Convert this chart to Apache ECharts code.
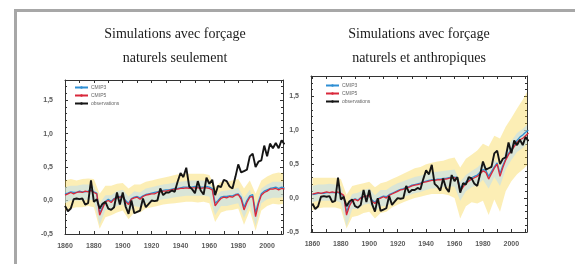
<!DOCTYPE html>
<html lang="fr">
<head>
<meta charset="UTF-8">
<title>Simulations</title>
<style>
  html, body { margin: 0; padding: 0; background: #fff; }
  #chart { width: 575px; height: 264px; }
</style>
</head>
<body>
<div id="chart"></div>
<script src="https://cdn.jsdelivr.net/npm/echarts@6.0.0/dist/echarts.min.js"></script>
<script>
// years of the line series (2-year steps) and of the ranges (4-year steps)
var years = [1860,1862,1864,1866,1868,1870,1872,1874,1876,1878,1880,1882,1884,1886,1888,1890,1892,1894,1896,1898,
  1900,1902,1904,1906,1908,1910,1912,1914,1916,1918,1920,1922,1924,1926,1928,1930,1932,1934,1936,1938,
  1940,1942,1944,1946,1948,1950,1952,1954,1956,1958,1960,1962,1964,1966,1968,1970,1972,1974,1976,1978,
  1980,1982,1984,1986,1988,1990,1992,1994,1996,1998,2000,2002,2004,2006,2008,2010,2012];
var bandYears = [1860,1864,1868,1872,1876,1880,1884,1888,1892,1896,1900,1904,1908,1912,1916,1920,1924,1928,1932,1936,
  1940,1944,1948,1952,1956,1960,1964,1968,1972,1976,1980,1984,1988,1992,1996,2000,2004,2008,2012];

var xTicks = [1860, 1880, 1900, 1920, 1940, 1960, 1980, 2000];
var xMinor = [1860,1870,1880,1890,1900,1910,1920,1930,1940,1950,1960,1970,1980,1990,2000,2010];
var yTicks = [-0.5, 0, 0.5, 1, 1.5];

// observations (shared by both panels)
var obs = [-0.08,-0.16,-0.12,0.02,0.03,0.02,0.03,-0.06,-0.04,0.3,-0.02,0.02,-0.12,-0.05,-0.02,-0.12,-0.14,-0.1,0.12,-0.06,
  0.12,-0.09,-0.2,0.0,-0.19,-0.17,-0.15,0.03,-0.1,-0.05,0.0,-0.01,0.0,0.18,0.08,0.12,0.12,0.15,0.13,0.28,
  0.41,0.35,0.49,0.21,0.17,0.11,0.29,0.15,0.09,0.34,0.25,0.31,0.08,0.22,0.2,0.31,0.29,0.21,0.18,0.35,
  0.54,0.42,0.44,0.46,0.66,0.7,0.5,0.58,0.6,0.82,0.66,0.85,0.78,0.86,0.78,0.9,0.84];

// natural forcing only
var natCmip5 = [0.08,0.1,0.12,0.1,0.12,0.13,0.12,0.14,0.13,0.15,0.12,0.1,-0.22,-0.12,-0.02,0.0,-0.03,0.02,0.04,0.05,
  0.06,-0.02,-0.06,0.02,0.04,0.05,0.02,0.06,0.08,0.09,0.1,0.1,0.12,0.13,0.14,0.14,0.15,0.16,0.17,0.17,
  0.18,0.18,0.19,0.18,0.19,0.19,0.19,0.18,0.19,0.19,0.18,0.16,-0.08,-0.02,0.03,0.05,0.04,0.06,0.05,0.08,
  0.09,0.02,-0.14,-0.03,0.05,0.06,-0.24,-0.05,0.08,0.12,0.14,0.17,0.17,0.18,0.16,0.18,0.17];
var natCmip3 = [0.1,0.11,0.13,0.12,0.12,0.14,0.13,0.13,0.14,0.16,0.13,0.11,-0.18,-0.1,-0.01,0.02,-0.01,0.03,0.05,0.06,
  0.07,0.0,-0.04,0.03,0.05,0.06,0.04,0.07,0.09,0.1,0.11,0.12,0.13,0.14,0.15,0.16,0.16,0.17,0.18,0.18,
  0.19,0.2,0.2,0.2,0.2,0.21,0.2,0.2,0.2,0.21,0.2,0.18,-0.04,0.0,0.05,0.06,0.06,0.07,0.07,0.09,
  0.1,0.05,-0.1,0.0,0.07,0.09,-0.18,-0.02,0.1,0.14,0.16,0.18,0.19,0.2,0.18,0.2,0.19];
var natYellowLo = [-0.15,-0.12,-0.1,-0.1,-0.08,-0.1,-0.42,-0.25,-0.22,-0.18,-0.15,-0.28,-0.18,-0.18,-0.12,-0.1,-0.08,-0.06,-0.05,-0.04,
  -0.03,-0.02,-0.02,-0.03,-0.02,-0.04,-0.32,-0.18,-0.15,-0.14,-0.12,-0.36,-0.15,-0.45,-0.15,-0.08,-0.05,-0.06,-0.05];
var natYellowHi = [0.3,0.32,0.3,0.32,0.33,0.32,0.1,0.22,0.22,0.25,0.26,0.18,0.24,0.24,0.28,0.3,0.32,0.34,0.36,0.38,
  0.4,0.4,0.4,0.4,0.4,0.38,0.2,0.28,0.28,0.3,0.32,0.18,0.3,0.1,0.3,0.36,0.4,0.42,0.4];
var natBlueLo = [-0.04,0.0,0.0,0.0,0.02,0.0,-0.36,-0.14,-0.14,-0.08,-0.06,-0.18,-0.08,-0.1,-0.04,-0.02,0.0,0.02,0.03,0.05,
  0.06,0.07,0.07,0.07,0.07,0.06,-0.22,-0.08,-0.08,-0.06,-0.04,-0.26,-0.06,-0.38,-0.04,0.02,0.04,0.04,0.05];
var natBlueHi = [0.2,0.22,0.22,0.24,0.24,0.22,-0.04,0.08,0.08,0.14,0.16,0.06,0.14,0.12,0.18,0.2,0.22,0.24,0.25,0.27,
  0.28,0.29,0.3,0.3,0.3,0.29,0.06,0.14,0.15,0.16,0.19,0.04,0.16,-0.08,0.18,0.24,0.28,0.28,0.28];

// natural + anthropogenic forcing
var allCmip5 = [0.06,0.07,0.08,0.07,0.08,0.09,0.08,0.09,0.08,0.09,0.07,0.04,-0.25,-0.12,-0.04,-0.02,-0.04,0.0,0.02,0.03,
  0.04,-0.05,-0.08,-0.02,0.0,0.02,0.0,0.04,0.06,0.08,0.1,0.12,0.13,0.15,0.16,0.18,0.19,0.2,0.21,0.23,
  0.24,0.25,0.26,0.26,0.27,0.27,0.28,0.28,0.29,0.3,0.3,0.28,0.1,0.16,0.22,0.25,0.28,0.3,0.32,0.36,
  0.4,0.38,0.28,0.36,0.44,0.5,0.32,0.45,0.56,0.64,0.7,0.76,0.82,0.86,0.88,0.92,0.96];
var allCmip3 = [0.05,0.06,0.07,0.07,0.07,0.08,0.08,0.08,0.08,0.08,0.06,0.03,-0.2,-0.1,-0.03,-0.01,-0.03,0.01,0.02,0.03,
  0.04,-0.03,-0.06,-0.01,0.01,0.03,0.02,0.05,0.07,0.09,0.11,0.13,0.14,0.16,0.17,0.19,0.2,0.21,0.22,0.24,
  0.25,0.26,0.27,0.27,0.28,0.28,0.29,0.29,0.3,0.31,0.31,0.3,0.15,0.19,0.24,0.27,0.3,0.32,0.34,0.38,
  0.42,0.41,0.32,0.39,0.46,0.52,0.36,0.48,0.58,0.66,0.72,0.79,0.85,0.9,0.93,0.97,1.0];
var allYellowLo = [-0.18,-0.15,-0.14,-0.14,-0.14,-0.16,-0.45,-0.28,-0.26,-0.22,-0.2,-0.3,-0.22,-0.2,-0.14,-0.1,-0.06,-0.03,0.0,0.02,
  0.04,0.06,0.06,0.06,0.04,0.0,-0.3,-0.12,-0.06,-0.08,-0.04,-0.25,-0.02,-0.2,0.1,0.25,0.35,0.42,0.5];
var allYellowHi = [0.3,0.3,0.3,0.3,0.3,0.28,0.05,0.18,0.2,0.22,0.24,0.16,0.22,0.24,0.28,0.32,0.36,0.4,0.44,0.46,
  0.5,0.52,0.54,0.55,0.58,0.6,0.45,0.58,0.64,0.7,0.8,0.76,0.92,0.88,1.05,1.18,1.32,1.45,1.6];
var allBlueLo = [-0.06,-0.04,-0.04,-0.04,-0.04,-0.06,-0.42,-0.16,-0.16,-0.1,-0.08,-0.2,-0.12,-0.12,-0.06,-0.02,0.02,0.04,0.07,0.09,
  0.12,0.14,0.15,0.16,0.17,0.17,-0.04,0.1,0.16,0.19,0.27,0.14,0.31,0.18,0.42,0.56,0.68,0.74,0.82];
var allBlueHi = [0.18,0.2,0.2,0.21,0.2,0.18,-0.1,0.06,0.08,0.12,0.14,0.04,0.12,0.12,0.18,0.22,0.25,0.28,0.31,0.33,
  0.36,0.38,0.39,0.4,0.41,0.42,0.24,0.34,0.4,0.45,0.53,0.42,0.57,0.46,0.7,0.84,0.96,1.02,1.1];

var panels = [
  { title: 'Simulations avec forçage\nnaturels seulement', cx: 175, left: 65, top: 80, width: 218, height: 154,
    xMin: 1860, xMax: 2011, cmip3: natCmip3, cmip5: natCmip5,
    yLo: natYellowLo, yHi: natYellowHi, bLo: natBlueLo, bHi: natBlueHi, legLeft: 74, legTop: 85 },
  { title: 'Simulations avec forçage\nnaturels et anthropiques', cx: 419, left: 311, top: 76, width: 216, height: 156,
    xMin: 1859, xMax: 2011, cmip3: allCmip3, cmip5: allCmip5,
    yLo: allYellowLo, yHi: allYellowHi, bLo: allBlueLo, bHi: allBlueHi, legLeft: 325, legTop: 83 }
];

function pairs(xs, ys) {
  return xs.map(function (x, i) { return [x, ys[i]]; });
}

var axisColor = '#333';
var grids = [], xAxes = [], yAxes = [], series = [], legends = [], graphics = [];

graphics.push({
  type: 'rect', silent: true, z: 100,
  shape: { x: 15.5, y: 10.5, width: 600, height: 300 },
  style: { fill: 'none', stroke: '#a7a7a7', lineWidth: 3 }
});

// range band: a single polygon (lower edge forward, upper edge back), placed with api.coord
function band(xi, yi, lo, hi, color, opacity) {
  series.push({
    type: 'custom', xAxisIndex: xi, yAxisIndex: yi, silent: true, z: 1, clip: true,
    data: bandYears.map(function (x, k) { return [x, lo[k], hi[k]]; }),
    renderItem: function (params, api) {
      if (params.dataIndex !== 0) return null;
      var pts = [];
      for (var k = 0; k < bandYears.length; k++) pts.push(api.coord([bandYears[k], lo[k]]));
      for (var j = bandYears.length - 1; j >= 0; j--) pts.push(api.coord([bandYears[j], hi[j]]));
      return { type: 'polygon', shape: { points: pts },
               style: { fill: color, opacity: opacity } };
    }
  });
}

panels.forEach(function (p, i) {
  grids.push({ left: p.left, top: p.top, width: p.width, height: p.height });
  graphics.push({
    type: 'text', silent: true, x: p.cx, y: 22,
    style: { text: p.title, font: '14px "Liberation Serif"', fill: '#1b1b1b',
             textAlign: 'center', textVerticalAlign: 'top', lineHeight: 24 }
  });

  var common = {
    type: 'value', gridIndex: i, splitLine: { show: false },
    axisLine: { show: true, onZero: false, lineStyle: { color: axisColor, width: 1 } }
  };
  xAxes.push(Object.assign({}, common, {
    min: p.xMin, max: p.xMax, position: 'bottom',
    axisTick: { inside: true, length: 3, customValues: xMinor, lineStyle: { color: axisColor } },
    axisLabel: { customValues: xTicks, margin: 9, fontSize: 7, fontWeight: 'bold',
                 fontFamily: 'Liberation Sans', color: '#5a5a5a', formatter: function (v) { return String(v); } }
  }));
  xAxes.push(Object.assign({}, common, {
    min: p.xMin, max: p.xMax, position: 'top',
    axisTick: { inside: true, length: 3, customValues: xMinor, lineStyle: { color: axisColor } },
    axisLabel: { show: false }
  }));
  yAxes.push(Object.assign({}, common, {
    min: -0.5, max: 1.8, interval: 0.5, position: 'left',
    axisTick: { inside: true, length: 3, lineStyle: { color: axisColor } },
    minorTick: { show: true, splitNumber: 5, length: 2, lineStyle: { color: axisColor } },
    axisLabel: { customValues: yTicks, margin: 12, fontSize: 7, fontWeight: 'bold',
                 fontFamily: 'Liberation Sans', color: '#5a5a5a',
                 formatter: function (v) { return v.toFixed(1).replace('.', ','); } }
  }));
  yAxes.push(Object.assign({}, common, {
    min: -0.5, max: 1.8, interval: 0.5, position: 'right',
    axisTick: { inside: true, length: 3, lineStyle: { color: axisColor } },
    minorTick: { show: true, splitNumber: 5, length: 2, lineStyle: { color: axisColor } },
    axisLabel: { show: false }
  }));

  var xi = i * 2, yi = i * 2;
  band(xi, yi, p.yLo, p.yHi, '#f6cf33', 0.36);
  band(xi, yi, p.bLo, p.bHi, '#bcdff2', 0.55);

  series.push({ name: 'CMIP3', type: 'line', xAxisIndex: xi, yAxisIndex: yi, symbol: 'none',
    lineStyle: { color: '#2e8fd4', width: 1.3 }, itemStyle: { color: '#2e8fd4' },
    data: pairs(years, p.cmip3), z: 3 });
  series.push({ name: 'CMIP5', type: 'line', xAxisIndex: xi, yAxisIndex: yi, symbol: 'none',
    lineStyle: { color: '#d9283b', width: 1.3 }, itemStyle: { color: '#d9283b' },
    data: pairs(years, p.cmip5), z: 4 });
  series.push({ name: 'observations', type: 'line', xAxisIndex: xi, yAxisIndex: yi, symbol: 'none',
    lineStyle: { color: '#151515', width: 1.9 }, itemStyle: { color: '#151515' },
    data: pairs(years, obs), z: 5 });

  legends.push({
    data: ['CMIP3', 'CMIP5', 'observations'], orient: 'vertical',
    left: p.legLeft, top: p.legTop, itemWidth: 13, itemHeight: 3, itemGap: 3,
    selectedMode: false, padding: 0,
    textStyle: { fontSize: 5, color: '#666', fontFamily: 'Liberation Sans', padding: [0, 0, 0, -2] }
  });
});

var chart = echarts.init(document.getElementById('chart'));
chart.setOption({
  animation: false,
  backgroundColor: '#fff',
  grid: grids,
  xAxis: xAxes,
  yAxis: yAxes,
  legend: legends,
  graphic: graphics,
  series: series
});
</script>
</body>
</html>
